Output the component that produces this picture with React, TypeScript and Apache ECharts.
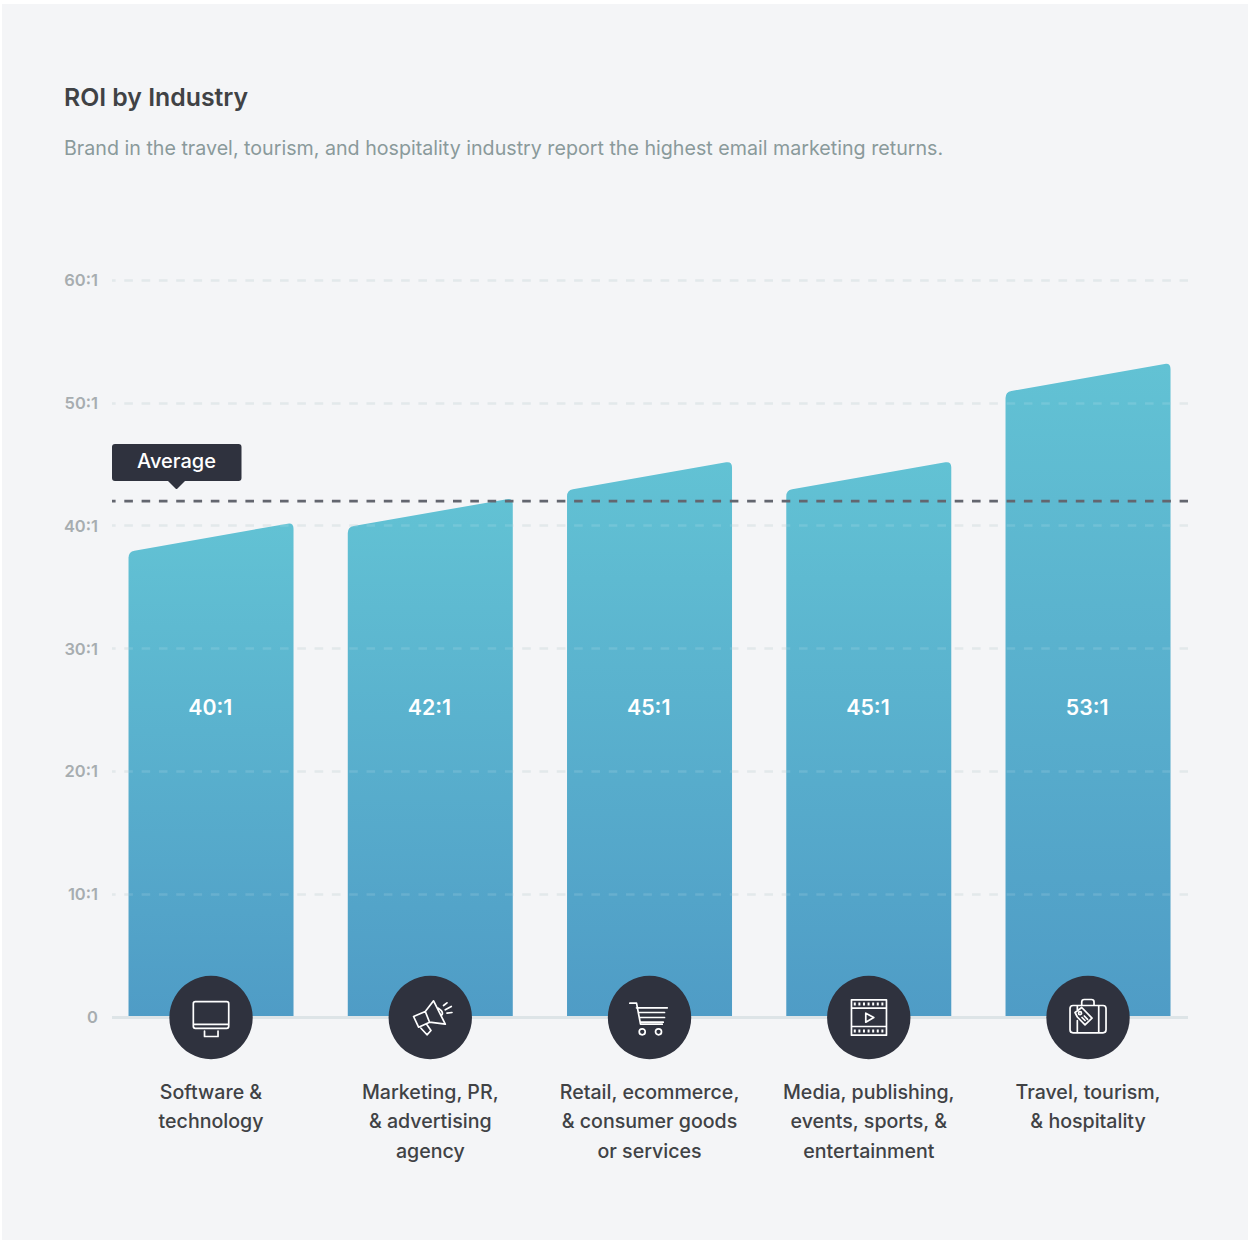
import React, { useEffect, useRef } from "react";
import * as echarts from "echarts";

const titleText = "ROI by Industry";
const subtitleText = "Brand in the travel, tourism, and hospitality industry report the highest email marketing returns.";
const categories = [
  "Software &\ntechnology",
  "Marketing, PR,\n& advertising\nagency",
  "Retail, ecommerce,\n& consumer goods\nor services",
  "Media, publishing,\nevents, sports, &\nentertainment",
  "Travel, tourism,\n& hospitality",
];
const roiValues = [40, 42, 45, 45, 53];
const averageRoi = 42;
const averageLabel = "Average";

const FONT = "Inter";
const PANEL = "#f4f5f7";
const DARK = "#2f323e";

// Line-art glyphs for the badges, drawn around the origin of each circle.
const glyphs: { d: string; fill?: string; dash?: number[] }[][] = [
  [
    { d: "M-15.7 -15.8H15.7Q17.7 -15.8 17.7 -13.8V8.8Q17.7 10.8 15.7 10.8H-15.7Q-17.7 10.8 -17.7 8.8V-13.8Q-17.7 -15.8 -15.7 -15.8ZM-17.7 6.8H17.7M-6.5 13.5V19H7V13.5" },
  ],
  [
    { d: "M-16.7 -1L-5 -6L3.3 -16.7L15 6.7L-0.7 4.7L-11.7 9.7ZM-5 -6L-0.7 4.7M-9.3 10.7L-3.3 17.3L0.7 13L-3.3 7.3M13.3 -12L16.7 -14.7M15 -7.7L21 -11M16.7 -4.3L21.7 -5M8 -9.3Q13.5 -6 11.7 -2.7" },
  ],
  [
    { d: "M-19.7 -14.3H-13L-9 6.7H12.7M-13 -9.7H17.7M-11.3 -5H15M-10 0H15M-9 4.7H13.7M-4.3 14.3A3 3 0 1 1 -10.3 14.3A3 3 0 1 1 -4.3 14.3ZM12 14.3A3 3 0 1 1 6 14.3A3 3 0 1 1 12 14.3Z" },
  ],
  [
    { d: "M-17.3 -17.7H17.7V17.7H-17.3ZM-17.3 -9.3H17.7M-17.3 9H17.7M-3 -4.3L5 0L-3 4.7Z" },
    { d: "M-15 -13.6H15.5M-15 13.4H15.5", dash: [2, 2.6] },
  ],
  [
    { d: "M-15 -12H15Q18 -12 18 -9V12.3Q18 15.3 15 15.3H-15Q-18 15.3 -18 12.3V-9Q-18 -12 -15 -12ZM-6.3 -12V-15.5Q-6.3 -18 -3.8 -18H3.5Q6 -18 6 -15.5V-12M10.7 -12V15.3M-10.7 -12V-6.5M-10.7 3V15.3M-13 -5L-6.3 -10L4 0.7L-3 7.3L-10.7 -0.5ZM-3.7 -1.5L-0.5 1.8M-6 0L-3 3M-6.5 -4.3A1.5 1.5 0 1 1 -9.5 -4.3A1.5 1.5 0 1 1 -6.5 -4.3Z" },
  ],
];

// Slanted column with rounded top corners; the value sits at the high right corner.
function slantedBar(api: any) {
  const i = api.value(0);
  const value = api.value(1);
  const center = api.coord([i, value]);
  const base = api.coord([i, 0])[1] - 1;
  const halfW = 82.5;
  const xl = center[0] - halfW;
  const xr = center[0] + halfW;
  const yr = center[1] - 3;
  const rise = 29;
  const yl = yr + rise;
  const r = 6;
  const sx = r * 0.985;
  const sy = r * 0.985 * (rise / (halfW * 2));
  const d =
    `M${xl} ${base}L${xl} ${yl + r}Q${xl} ${yl} ${xl + sx} ${yl - sy}` +
    `L${xr - sx} ${yr + sy}Q${xr} ${yr} ${xr} ${yr + r}L${xr} ${base}Z`;
  const labelPos = api.coord([i, 25.2]);
  return {
    type: "group",
    children: [
      {
        type: "path",
        shape: { pathData: d },
        style: {
          fill: new echarts.graphic.LinearGradient(0, 0, 0, 1, [
            { offset: 0, color: "#62c2d4" },
            { offset: 1, color: "#4f9cc6" },
          ]),
        },
      },
      {
        type: "text",
        x: labelPos[0] - 0.8,
        y: labelPos[1],
        style: {
          text: `${value}:1`,
          fill: "#ffffff",
          font: `600 21.3px ${FONT}`,
          textAlign: "center",
          textVerticalAlign: "middle",
        },
      },
    ],
  };
}

// Dark badge with its glyph, straddling the baseline under each column.
function badge(api: any) {
  const i = api.value(0);
  const p = api.coord([i, 0]);
  const cy = p[1] + 0.5;
  return {
    type: "group",
    children: [
      { type: "circle", shape: { cx: p[0], cy, r: 41.7 }, style: { fill: DARK } },
      ...glyphs[i].map((g) => ({
        type: "path",
        x: p[0],
        y: cy,
        shape: { pathData: g.d },
        style: {
          fill: "none",
          stroke: "#ffffff",
          lineWidth: g.dash ? 3 : 1.7,
          lineDash: g.dash,
          lineJoin: "round",
          lineCap: g.dash ? "butt" : "round",
        },
      })),
    ],
  };
}

export default function App() {
  const ref = useRef<HTMLDivElement>(null);
  useEffect(() => {
    document.body.style.margin = "0";
    const chart = echarts.init(ref.current!, null, { renderer: "svg" });
    chart.setOption({
      animation: false,
      backgroundColor: "#ffffff",
      title: [
        {
          text: titleText,
          left: 64,
          top: 82,
          padding: 0,
          textStyle: { fontFamily: FONT, fontSize: 24.8, fontWeight: 600, color: "#404245", lineHeight: 30 },
        },
        {
          text: subtitleText,
          left: 64,
          top: 135,
          padding: 0,
          textStyle: { fontFamily: FONT, fontSize: 19.67, fontWeight: 400, color: "#8a9a9b", lineHeight: 26 },
        },
      ],
      grid: [
        { left: 112, top: 280, width: 1076, height: 737 },
        { left: 101.4, top: 280, width: 1096.25, height: 737 },
      ],
      xAxis: [
        {
          type: "value",
          gridIndex: 0,
          min: 0,
          max: 1,
          axisLabel: { show: false },
          axisTick: { show: false },
          splitLine: { show: false },
          axisLine: { show: true, lineStyle: { color: "#dde4e7", width: 3, cap: "butt" } },
        },
        {
          type: "category",
          gridIndex: 1,
          data: categories,
          axisLine: { show: false },
          axisTick: { show: false },
          axisLabel: {
            interval: 0,
            margin: 60,
            fontFamily: FONT,
            fontSize: 19.6,
            fontWeight: 500,
            color: "#404245",
            lineHeight: 29.5,
            align: "center",
            verticalAlign: "top",
          },
        },
      ],
      yAxis: [
        {
          type: "value",
          gridIndex: 0,
          min: 0,
          max: 60,
          interval: 10,
          axisLine: { show: false },
          axisTick: { show: false },
          axisLabel: {
            margin: 14,
            fontFamily: FONT,
            fontSize: 16.5,
            fontWeight: 600,
            color: "#a7adb0",
            formatter: (v: number) => (v === 0 ? "0" : `${v}:1`),
          },
          splitLine: {
            show: true,
            lineStyle: { color: "#dfe6e9", width: 2.6, type: [8.6, 8.7], dashOffset: 4.5, cap: "butt" },
          },
        },
        {
          type: "value",
          gridIndex: 1,
          min: 0,
          max: 60,
          interval: 10,
          show: false,
        },
        // Faint repeat of the grid lines that stays visible across the columns.
        {
          type: "value",
          gridIndex: 0,
          position: "right",
          min: 0,
          max: 60,
          interval: 10,
          z: 3,
          axisLine: { show: false },
          axisTick: { show: false },
          axisLabel: { show: false },
          splitLine: {
            show: true,
            showMinLine: false,
            lineStyle: { color: "rgba(255,255,255,0.12)", width: 2.6, type: [8.6, 8.7], dashOffset: 4.5, cap: "butt" },
          },
        },
      ],
      series: [
        {
          type: "custom",
          name: "ROI",
          xAxisIndex: 1,
          yAxisIndex: 1,
          z: 2,
          data: roiValues.map((v, i) => [i, v]),
          encode: { x: 0, y: 1 },
          renderItem: (_: any, api: any) => slantedBar(api),
        },
        {
          type: "line",
          name: averageLabel,
          xAxisIndex: 0,
          yAxisIndex: 0,
          z: 4,
          symbol: "none",
          data: [
            [0, averageRoi],
            [1, averageRoi],
          ],
          lineStyle: { color: "#63666f", width: 2.6, type: [8.6, 8.7], dashOffset: 4.5, cap: "butt" },
        },
        {
          type: "custom",
          name: "Badges",
          xAxisIndex: 1,
          yAxisIndex: 1,
          z: 5,
          data: roiValues.map((v, i) => [i, v]),
          encode: { x: 0, y: 1 },
          renderItem: (_: any, api: any) => badge(api),
        },
      ],
      graphic: [
        {
          type: "rect",
          z: -10,
          silent: true,
          shape: { x: 2, y: 4, width: 1246, height: 1236 },
          style: { fill: PANEL },
        },
        {
          type: "rect",
          z: 20,
          shape: { x: 112, y: 444, width: 129.5, height: 37, r: 3 },
          style: { fill: DARK },
        },
        {
          type: "polygon",
          z: 20,
          shape: { points: [[168, 481], [185, 481], [177, 489], [176, 489]] },
          style: { fill: DARK },
        },
        {
          type: "text",
          z: 21,
          x: 176.5,
          y: 460.5,
          style: {
            text: averageLabel,
            fill: "#ffffff",
            font: `500 20px ${FONT}`,
            textAlign: "center",
            textVerticalAlign: "middle",
          },
        },
      ],
    });
    return () => chart.dispose();
  }, []);
  return <div ref={ref} style={{ width: 1248, height: 1240, display: "block" }} />;
}
